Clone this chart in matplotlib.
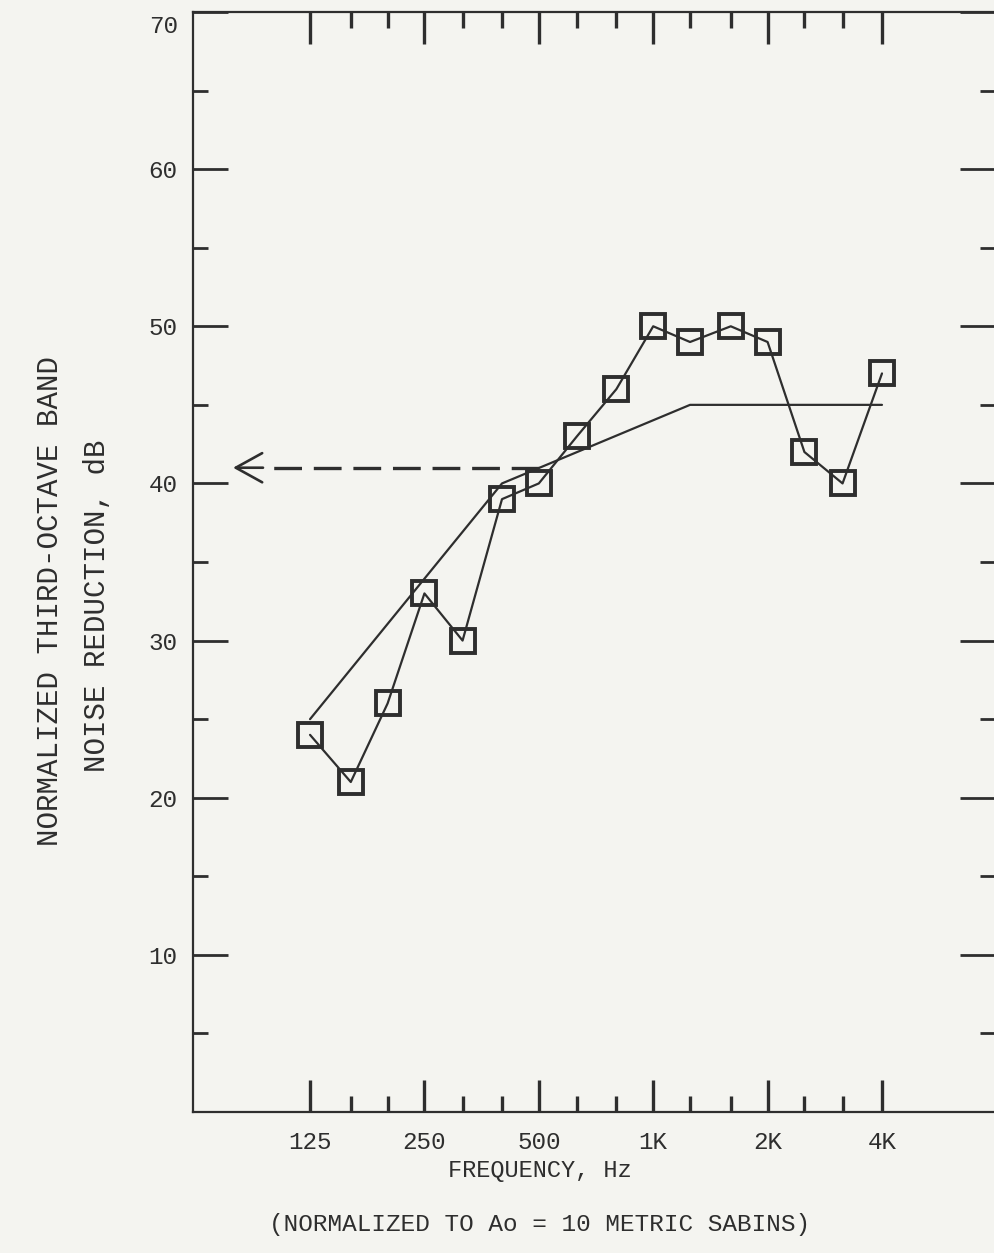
import matplotlib
matplotlib.use("Agg")
import matplotlib.pyplot as plt
from matplotlib.ticker import FixedLocator, NullFormatter, FixedFormatter
from matplotlib.transforms import ScaledTranslation

# ---- data ----
band_freqs = [125, 160, 200, 250, 315, 400, 500, 630, 800,
              1000, 1250, 1600, 2000, 2500, 3150, 4000]
noise_reduction = [24, 21, 26, 33, 30, 39, 40, 43, 46,
                   50, 49, 50, 49, 42, 40, 47]
contour_freqs = [125, 400, 1250, 4000]
contour_values = [25, 40, 45, 45]
rating_value = 41
rating_freq = 500
octave_ticks = [125, 250, 500, 1000, 2000, 4000]
octave_labels = ["125", "250", "500", "1K", "2K", "4K"]
y_major = [10, 20, 30, 40, 50, 60, 70]
y_labels = ["10", "20", "30", "40", "50", "60", "70"]
y_minor = [5, 15, 25, 35, 45, 55, 65]

BG = "#f4f4f0"
INK = "#2e2e2e"
plt.rcParams['lines.scale_dashes'] = False
FONT = ["Liberation Mono", "DejaVu Sans Mono"]

W, H = 995, 1253
fig = plt.figure(figsize=(W / 100, H / 100), dpi=100, facecolor=BG)
ax = fig.add_axes([193 / W, 1 - 1112 / H, (W - 193) / W, (1112 - 12) / H])
ax.set_facecolor(BG)
ax.set_xscale('log', base=2)
ax.set_xlim(61.5, 7934)
ax.set_ylim(0, 70)

# data curve
ax.plot(band_freqs, noise_reduction, color=INK, lw=1.6, marker='s',
        markersize=17, markerfacecolor='none', markeredgecolor=INK,
        markeredgewidth=2.8, solid_capstyle='round', zorder=3)
# reference contour
ax.plot(contour_freqs, contour_values, color=INK, lw=1.6,
        solid_capstyle='round', zorder=2)
# dashed rating line and arrow
ax.plot([rating_freq, 99], [rating_value, rating_value], color=INK, lw=2.4,
        dashes=(20, 8.5), zorder=2)
ax.annotate('', xy=(78.4, rating_value), xytext=(94, rating_value),
            arrowprops=dict(arrowstyle='->,head_length=1.9,head_width=1.05',
                            color=INK, lw=1.9, shrinkA=0, shrinkB=0))

# spines
for s in ['left', 'top', 'bottom']:
    ax.spines[s].set_color(INK)
    ax.spines[s].set_linewidth(1.6)
ax.spines['right'].set_visible(False)

# x ticks
ax.xaxis.set_major_locator(FixedLocator(octave_ticks))
ax.xaxis.set_major_formatter(FixedFormatter(octave_labels))
ax.xaxis.set_minor_locator(FixedLocator([f for f in band_freqs if f not in octave_ticks]))
ax.xaxis.set_minor_formatter(NullFormatter())
ax.tick_params(axis='x', which='major', direction='in', top=True, bottom=True,
               length=23, width=2.4, color=INK, pad=14, labelsize=17.5,
               labelcolor=INK)
ax.tick_params(axis='x', which='minor', direction='in', top=True, bottom=True,
               length=11.5, width=2.4, color=INK)

# y ticks
ax.yaxis.set_major_locator(FixedLocator(y_major))
ax.yaxis.set_major_formatter(FixedFormatter(y_labels))
ax.yaxis.set_minor_locator(FixedLocator(y_minor))
ax.tick_params(axis='y', which='major', direction='in', left=True, right=True,
               length=25, width=2.0, color=INK, pad=11, labelsize=17.5,
               labelcolor=INK)
ax.tick_params(axis='y', which='minor', direction='in', left=True, right=True,
               length=11, width=2.0, color=INK)
for lab in ax.get_xticklabels() + ax.get_yticklabels():
    lab.set_family(FONT)
# the top label sits a little below its tick in the original
fig.canvas.draw()
for lab in ax.get_yticklabels():
    if lab.get_text() == "70":
        lab.set_transform(lab.get_transform() +
                          ScaledTranslation(0, -12 / 100, fig.dpi_scale_trans))

# labels
fig.text(540 / W, 1 - 1170 / H, "FREQUENCY, Hz", ha='center', va='center',
         fontsize=17, color=INK, family=FONT)
fig.text(540 / W, 1 - 1225 / H, "(NORMALIZED TO Ao = 10 METRIC SABINS)",
         ha='center', va='center', fontsize=17.6, color=INK, family=FONT)
fig.text(50 / W, 1 - 601 / H, "NORMALIZED THIRD-OCTAVE BAND", rotation=90,
         ha='center', va='center', fontsize=21, color=INK, family=FONT)
fig.text(97 / W, 1 - 606 / H, "NOISE REDUCTION, dB", rotation=90,
         ha='center', va='center', fontsize=21, color=INK, family=FONT)

fig.savefig("out.png", dpi=100, facecolor=BG)
